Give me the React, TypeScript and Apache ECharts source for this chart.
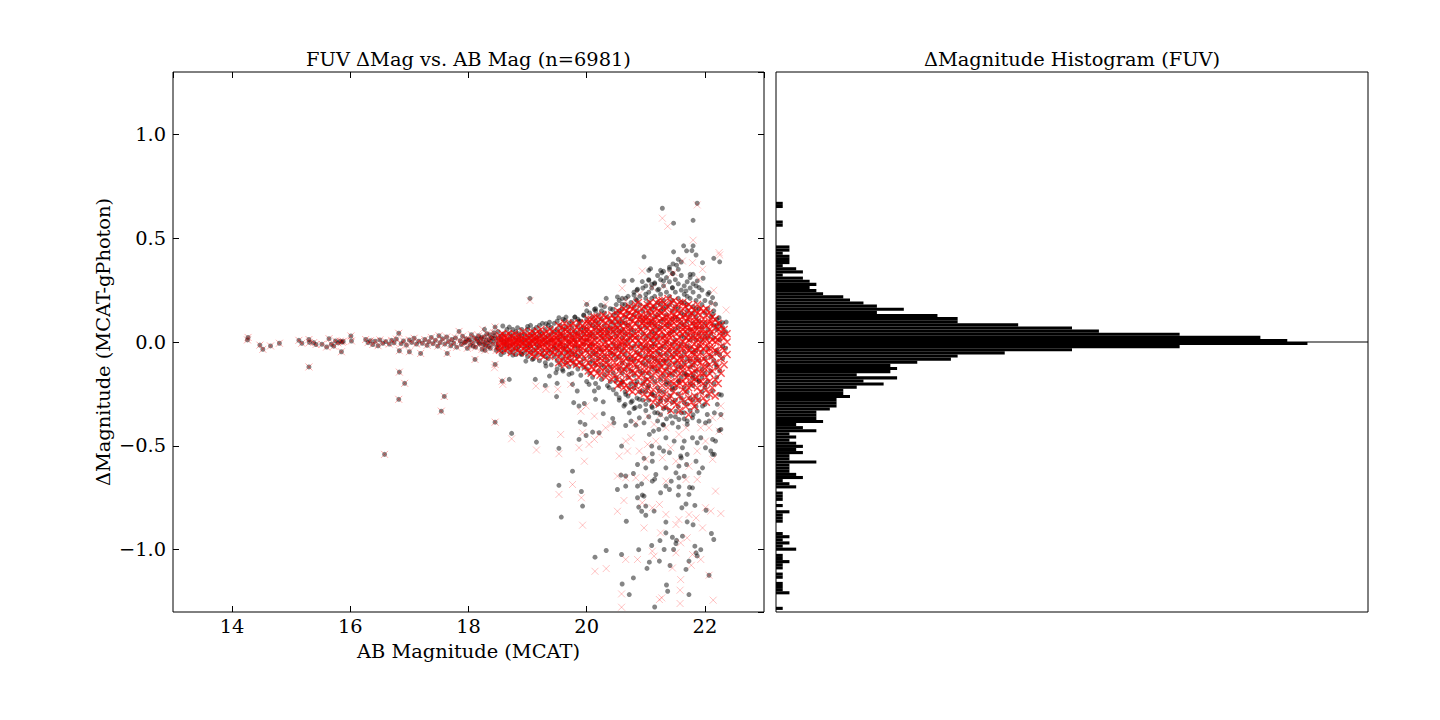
import React, { useEffect, useRef } from "react";
import * as echarts from "echarts";

const FONT = "'DejaVu Serif', serif";
const FS = 19.4;

// ---------- axis ranges ----------
const X_MIN = 13;
const X_MAX = 23;
const Y_MIN = -1.3;
const Y_MAX = 1.3;

// ---------- histogram (Δmag bins from -1.29, width 0.015) ----------
const HIST_START = -1.29;
const HIST_BIN = 0.015;
const histCounts = [
  1, 0, 0, 0, 0, 2, 1, 1, 1, 0,
  1, 1, 0, 1, 1, 2, 1, 1, 0, 3,
  1, 2, 1, 2, 1, 0, 0, 0, 1, 1,
  1, 2, 0, 1, 0, 1, 1, 1, 0, 3,
  2, 1, 4, 3, 2, 2, 2, 6, 2, 2,
  4, 3, 4, 3, 2, 3, 2, 6, 4, 3,
  7, 6, 6, 6, 8, 9, 9, 9, 11, 10,
  10, 12, 16, 13, 18, 12, 17, 18, 17, 21,
  26, 27, 34, 44, 60, 79, 76, 72, 60, 48,
  44, 36, 27, 27, 24, 15, 19, 15, 13, 11,
  10, 7, 6, 5, 6, 5, 4, 1, 4, 3,
  1, 2, 2, 2, 1, 2, 2, 0, 0, 0,
  0, 0, 0, 1, 1, 0, 0, 0, 0, 1,
  1, 0,
];
const SPIKE_AT = 0.001;
const SPIKE_COUNT = 88;
const HIST_MAX = 88;

// ---------- scatter: faint left band (black dot and red x coincide) ----------
const leftBand = [
  14.26, 0.010, 14.27, 0.022, 14.47, -0.015, 14.52, -0.035, 14.65, -0.019, 14.80, -0.006,
  15.13, 0.008, 15.18, -0.006, 15.30, 0.012, 15.31, -0.002, 15.30, -0.120, 15.38, -0.003,
  15.42, -0.012, 15.52, -0.011, 15.60, -0.024, 15.64, 0.016, 15.68, -0.011, 15.72, -0.020,
  15.75, 0.005, 15.79, -0.004, 15.83, 0.004, 15.86, -0.001, 15.88, 0.003, 15.85, -0.047,
  16.01, 0.029, 16.02, 0.005, 16.58, -0.541,
  16.26, 0.012, 16.30, -0.003, 16.34, 0.006, 16.38, -0.012, 16.42, 0.004, 16.47, -0.018,
  16.50, 0.010, 16.55, -0.006, 16.60, 0.002, 16.66, -0.010, 16.70, 0.008, 16.74, -0.004,
  16.78, 0.014, 16.82, 0.042, 16.83, -0.042, 16.83, -0.145, 16.92, -0.199, 16.82, -0.276,
  16.86, -0.008, 16.90, 0.005, 16.95, -0.015, 17.00, 0.010, 17.00, -0.047, 17.04, -0.002,
  17.08, 0.018, 17.12, -0.010, 17.16, 0.004, 17.19, -0.055, 17.22, -0.006, 17.26, 0.012,
  17.30, -0.016, 17.33, 0.002, 17.37, 0.022, 17.40, -0.008, 17.44, 0.008, 17.48, -0.020,
  17.50, 0.030, 17.52, -0.003, 17.54, -0.333, 17.59, -0.262, 17.56, 0.015, 17.60, -0.010,
  17.63, 0.024, 17.64, -0.055, 17.66, 0.002, 17.70, -0.018, 17.72, 0.012, 17.75, -0.006,
  17.78, 0.020, 17.80, -0.025, 17.84, 0.051, 17.86, 0.006, 17.88, -0.012, 17.90, 0.028,
  17.93, -0.003, 17.95, 0.000, 17.96, 0.015, 17.98, -0.030, 18.00, 0.008, 18.02, 0.012,
  18.03, -0.015, 18.05, 0.035, 18.07, -0.002, 18.08, -0.020, 18.10, 0.020, 18.11, -0.084,
  18.12, -0.025, 18.14, 0.015, 18.15, 0.005, 18.17, 0.030, 18.18, -0.004, 18.19, -0.010,
  18.21, 0.015, 18.22, 0.022, 18.23, -0.035, 18.25, 0.000, 18.26, -0.012, 18.27, 0.025,
  18.28, -0.040, 18.29, -0.018, 18.30, 0.008, 18.31, 0.040, 18.33, -0.005, 18.34, -0.022,
  18.35, 0.012, 18.36, 0.035, 18.37, -0.030, 18.38, 0.004, 18.39, 0.020, 18.41, -0.010,
  18.42, 0.018, 18.43, 0.045, 18.44, 0.030, 18.45, -0.108, 18.45, 0.072, 18.45, -0.386,
  18.46, 0.005, 18.47, -0.040, 18.48, -0.022, 18.57, -0.188,
];

// ---------- scatter: black dots, dense core (x, list of Δmag) ----------
const blackCore: Array<[number, number[]]> = [
  [18.50, [0.02, -0.03, 0.05, -0.01]],
  [18.55, [-0.04, 0.01, 0.03, -0.06]],
  [18.60, [0.04, -0.02, 0.00, -0.05]],
  [18.65, [-0.03, 0.06, 0.01, -0.01]],
  [18.70, [0.02, -0.05, 0.04, -0.02]],
  [18.75, [-0.01, 0.03, -0.04, 0.06]],
  [18.80, [0.05, -0.03, 0.01, -0.06]],
  [18.85, [-0.02, 0.02, 0.04, -0.04]],
  [18.90, [0.03, -0.06, 0.00, 0.06]],
  [18.95, [-0.05, 0.04, -0.02, 0.01]],
  [19.00, [0.06, -0.03, 0.02, -0.07, -0.01]],
  [19.05, [-0.05, 0.03, 0.08, -0.02, 0.00]],
  [19.10, [0.04, -0.08, 0.01, -0.04, 0.06]],
  [19.15, [-0.03, 0.07, -0.06, 0.02, -0.01]],
  [19.20, [0.05, -0.02, -0.09, 0.03, 0.08]],
  [19.25, [-0.06, 0.01, 0.04, -0.04, 0.09]],
  [19.30, [0.02, -0.07, 0.06, -0.01, -0.10]],
  [19.35, [-0.04, 0.08, 0.03, -0.08, 0.00]],
  [19.40, [0.07, -0.05, 0.01, -0.11, 0.04]],
  [19.45, [-0.02, 0.05, -0.07, 0.09, -0.03]],
  [19.50, [0.06, -0.09, 0.02, -0.04, 0.10, -0.13]],
  [19.55, [-0.06, 0.04, -0.01, 0.08, -0.11, 0.01]],
  [19.60, [0.03, -0.08, 0.11, -0.03, -0.14, 0.06]],
  [19.65, [-0.05, 0.07, -0.10, 0.02, 0.12, -0.02]],
  [19.70, [0.09, -0.04, 0.00, -0.12, 0.05, -0.07]],
  [19.75, [-0.09, 0.03, 0.10, -0.05, -0.15, 0.07]],
  [19.80, [0.05, -0.06, 0.12, -0.02, -0.11, 0.01]],
  [19.85, [-0.03, 0.08, -0.13, 0.04, -0.07, 0.11]],
  [19.90, [0.10, -0.10, 0.02, -0.05, 0.06, -0.16]],
  [19.95, [-0.08, 0.04, -0.01, 0.13, -0.12, 0.07]],
  [20.00, [0.06, -0.13, 0.11, -0.04, 0.01, -0.19, 0.15]],
  [20.05, [-0.07, 0.09, -0.02, 0.14, -0.15, 0.03, -0.10]],
  [20.10, [0.12, -0.05, 0.04, -0.17, 0.08, -0.09, -0.01]],
  [20.15, [-0.11, 0.02, 0.16, -0.06, -0.20, 0.07, 0.10]],
  [20.20, [0.05, -0.14, 0.09, -0.03, 0.13, -0.08, -0.22]],
  [20.25, [-0.04, 0.11, -0.18, 0.03, 0.15, -0.11, 0.06]],
  [20.30, [0.14, -0.07, 0.01, -0.16, 0.08, -0.12, 0.17]],
  [20.35, [-0.09, 0.06, -0.21, 0.12, -0.02, 0.04, -0.14]],
  [20.40, [0.10, -0.12, 0.16, -0.05, -0.19, 0.02, 0.07]],
  [20.45, [-0.06, 0.13, -0.15, 0.05, -0.23, 0.09, -0.01]],
  [20.50, [0.11, -0.08, 0.18, -0.17, 0.03, -0.25, 0.07, -0.03, 0.14]],
  [20.55, [-0.13, 0.05, -0.21, 0.15, -0.02, 0.09, -0.28, 0.20, -0.07]],
  [20.60, [0.16, -0.10, 0.02, -0.19, 0.10, -0.04, 0.21, -0.15, 0.06]],
  [20.65, [-0.06, 0.12, -0.24, 0.04, -0.13, 0.18, -0.01, -0.30, 0.09]],
  [20.70, [0.08, -0.17, 0.14, -0.08, 0.22, -0.26, 0.01, -0.11, 0.17]],
  [20.75, [-0.20, 0.06, -0.03, 0.19, -0.14, 0.11, -0.29, 0.03, -0.08]],
  [20.80, [0.13, -0.09, 0.24, -0.22, 0.05, -0.16, 0.17, -0.02, -0.32]],
  [20.85, [-0.05, 0.20, -0.27, 0.09, -0.12, 0.15, -0.19, 0.02, 0.25]],
  [20.90, [0.18, -0.14, 0.07, -0.24, 0.12, -0.06, -0.31, 0.22, -0.01]],
  [20.95, [-0.10, 0.15, -0.20, 0.04, 0.26, -0.28, 0.10, -0.15, -0.03]],
  [21.00, [0.21, -0.07, 0.12, -0.18, 0.02, -0.33, 0.17, -0.11, 0.27, -0.24, 0.07, -0.02]],
  [21.05, [-0.15, 0.09, -0.28, 0.19, -0.04, 0.14, -0.21, 0.03, -0.36, 0.24, -0.09, 0.30]],
  [21.10, [0.16, -0.12, 0.05, -0.25, 0.26, -0.02, -0.17, 0.10, -0.31, 0.21, -0.07, 0.01]],
  [21.15, [-0.08, 0.22, -0.19, 0.12, -0.34, 0.04, 0.28, -0.13, 0.17, -0.26, -0.01, 0.08]],
  [21.20, [0.13, -0.22, 0.25, -0.05, 0.06, -0.30, 0.19, -0.14, 0.32, -0.09, -0.38, 0.02]],
  [21.25, [-0.18, 0.07, -0.03, 0.23, -0.27, 0.15, -0.11, 0.30, -0.35, 0.10, -0.06, 0.18]],
  [21.30, [0.20, -0.09, 0.11, -0.32, 0.27, -0.16, 0.03, -0.24, 0.16, -0.02, 0.34, -0.40]],
  [21.35, [-0.13, 0.24, -0.06, 0.08, -0.28, 0.17, -0.37, 0.31, -0.19, 0.00, 0.13, -0.09]],
  [21.40, [0.09, -0.20, 0.29, -0.11, 0.18, -0.33, 0.04, -0.26, 0.22, -0.04, 0.36, -0.15]],
  [21.45, [-0.07, 0.15, -0.29, 0.26, -0.16, 0.05, -0.39, 0.20, -0.01, 0.11, -0.23, 0.33]],
  [21.50, [0.24, -0.14, 0.06, -0.36, 0.17, -0.05, 0.30, -0.22, 0.12, -0.28, 0.01, -0.10]],
  [21.55, [-0.19, 0.11, -0.31, 0.21, -0.03, 0.28, -0.12, 0.07, -0.41, 0.16, -0.25, 0.35]],
  [21.60, [0.14, -0.07, 0.25, -0.27, 0.03, -0.17, 0.19, -0.34, 0.09, -0.01, 0.32, -0.12]],
  [21.65, [-0.10, 0.19, -0.22, 0.08, -0.37, 0.27, -0.05, 0.13, -0.29, 0.23, -0.15, 0.02]],
  [21.70, [0.22, -0.16, 0.04, -0.30, 0.15, -0.08, 0.29, -0.24, 0.10, -0.38, 0.18, -0.02]],
  [21.75, [-0.12, 0.26, -0.20, 0.06, -0.33, 0.13, -0.03, 0.21, -0.27, 0.31, -0.09, 0.01]],
  [21.80, [0.17, -0.21, 0.09, -0.35, 0.24, -0.11, 0.03, -0.28, 0.14, -0.05, 0.28, -0.16]],
  [21.85, [-0.14, 0.12, -0.26, 0.20, -0.04, 0.27, -0.31, 0.07, -0.18, 0.16, -0.08, 0.01]],
  [21.90, [0.10, -0.19, 0.22, -0.09, 0.04, -0.28, 0.16, -0.02]],
  [21.95, [-0.13, 0.18, -0.24, 0.07, -0.05, 0.25, -0.17, 0.01]],
  [22.00, [0.14, -0.08, 0.20, -0.22, 0.03, -0.15, 0.09, -0.30]],
  [22.05, [-0.11, 0.06, -0.19, 0.16, -0.03, 0.23, -0.26, 0.02]],
  [22.10, [0.12, -0.14, 0.04, -0.07, 0.19]],
  [22.15, [-0.09, 0.15, -0.20, 0.02, 0.08]],
  [22.20, [0.06, -0.12, 0.11, -0.04, -0.17]],
  [22.25, [-0.06, 0.09, -0.14, 0.01]],
  [22.30, [0.04, -0.08, 0.07, -0.02]],
  [22.35, [-0.03, 0.05]],
];

// ---------- scatter: black dots, scattered outliers ----------
const blackOut = [
  21.28, 0.644, 21.47, 0.572, 21.87, 0.668, 21.80, 0.586, 21.64, 0.463, 21.80, 0.463,
  21.69, 0.439, 21.47, 0.434, 21.85, 0.419, 21.78, 0.44, 20.97, 0.41, 22.15, 0.403,
  22.25, 0.386, 21.96, 0.382, 21.55, 0.398, 21.60, 0.385, 21.52, 0.37, 21.46, 0.376,
  21.08, 0.353, 21.05, 0.345, 21.25, 0.345, 21.40, 0.35, 21.27, 0.333, 21.46, 0.33,
  21.75, 0.326, 21.80, 0.326, 21.97, 0.307, 21.87, 0.294, 20.63, 0.294, 20.77, 0.297,
  20.94, 0.291, 21.05, 0.297, 21.10, 0.278, 21.15, 0.285, 21.30, 0.294, 20.86, 0.254,
  22.07, 0.238, 19.04, 0.21, 20.00, 0.181, 20.13, 0.157, 20.24, 0.177, 20.33, 0.21,
  20.52, 0.217, 20.66, 0.21, 20.80, 0.226, 19.53, 0.117, 19.63, 0.104, 19.80, 0.12,
  19.95, 0.128, 19.31, 0.088, 19.37, 0.095, 22.36, 0.096, 22.24, 0.117, 22.20, 0.08,
  18.27, 0.061, 18.58, 0.077, 18.69, 0.072, 18.83, 0.069, 19.00, 0.075, 19.87, 0.101,
  20.15, 0.149, 20.44, 0.157, 20.60, 0.182, 20.83, 0.206, 21.00, 0.23, 21.22, 0.254,
  21.45, 0.262, 21.68, 0.246, 21.90, 0.262, 22.13, 0.214, 22.18, 0.182, 22.13, 0.133,
  22.30, 0.093,
  18.69, -0.18, 18.73, -0.44, 19.15, -0.482, 19.53, -0.512, 19.76, -0.622, 19.13, -0.18,
  19.30, -0.209, 19.50, -0.199, 19.49, -0.263, 19.78, -0.292, 19.87, -0.308, 19.96, -0.296,
  20.15, -0.276, 20.28, -0.288, 19.89, -0.386, 19.97, -0.397, 20.10, -0.434, 20.21, -0.437,
  19.87, -0.469, 19.99, -0.45, 20.28, -0.345, 20.44, -0.368, 20.46, -0.389, 20.59, -0.501,
  20.66, -0.402, 20.75, -0.381, 20.83, -0.40, 20.89, -0.365, 20.97, -0.389, 21.06, -0.445,
  21.13, -0.429, 21.22, -0.421, 21.29, -0.397, 20.86, -0.59, 20.97, -0.56, 21.10, -0.501,
  21.11, -0.538, 21.30, -0.525, 21.40, -0.533, 21.56, -0.598, 21.60, -0.558, 21.65, -0.477,
  21.69, -0.59, 21.90, -0.381, 22.01, -0.389, 21.93, -0.461, 22.13, -0.469, 22.24, -0.426,
  22.16, -0.541, 22.27, -0.349, 22.28, -0.255, 22.19, -0.108, 22.19, -0.051, 18.75, -0.063,
  18.89, -0.056, 18.97, -0.092, 19.08, -0.084, 19.31, -0.116, 19.48, -0.148, 19.59, -0.132,
  19.70, -0.156, 19.37, -0.164, 19.76, -0.204, 19.84, -0.236, 20.04, -0.204, 20.13, -0.236,
  20.38, -0.22, 20.55, -0.268, 20.66, -0.252, 20.77, -0.284,
  20.63, -0.308, 20.72, -0.341, 20.82, -0.316, 20.89, -0.276, 21.00, -0.300, 21.11, -0.316,
  21.20, -0.341, 21.25, -0.284, 21.34, -0.316, 21.42, -0.357, 21.51, -0.333, 21.56, -0.373,
  21.65, -0.341, 21.70, -0.397, 21.79, -0.365, 21.87, -0.333, 21.96, -0.308, 22.04, -0.349,
  22.07, -0.381, 22.16, -0.341, 22.21, -0.300, 22.24, -0.252, 22.13, -0.236, 22.01, -0.204,
  21.90, -0.188, 21.79, -0.172, 21.68, -0.156, 21.56, -0.188, 21.45, -0.220, 21.34, -0.204,
  21.23, -0.236, 21.11, -0.252, 21.03, -0.220, 20.94, -0.236, 20.83, -0.204, 20.72, -0.220,
  20.60, -0.196, 20.49, -0.188, 21.79, -0.461, 21.87, -0.485, 22.01, -0.509, 22.10, -0.525,
  21.62, -0.509, 21.48, -0.477, 21.34, -0.461, 21.23, -0.509, 21.11, -0.574, 21.00, -0.606,
  21.17, -0.638, 21.34, -0.606, 21.51, -0.630, 21.59, -0.549, 21.70, -0.541, 21.85, -0.574,
  21.96, -0.606, 22.13, -0.541, 22.18, -0.477, 22.27, -0.421,
  19.53, -0.69, 19.57, -0.843, 19.91, -0.72, 19.93, -0.79, 20.14, -1.036, 20.33, -1.004,
  20.52, -0.71, 20.66, -0.694, 20.58, -0.641, 20.66, -0.645, 20.79, -0.633, 20.67, -0.863,
  20.59, -1.023, 20.60, -1.165, 20.72, -1.216, 20.79, -1.136, 20.88, -1.0, 20.86, -0.694,
  20.93, -0.683, 20.88, -0.795, 21.00, -0.834, 20.93, -0.815, 20.97, -0.742, 21.06, -1.06,
  21.02, -1.09, 21.10, -0.98, 21.15, -1.276, 21.35, -1.17, 21.37, -1.2, 21.23, -1.055,
  21.24, -0.956, 21.34, -0.867, 21.34, -0.919, 21.45, -0.94, 21.52, -0.955, 21.47, -0.999,
  21.51, -0.97, 21.31, -0.999, 21.41, -1.076, 21.62, -0.935, 21.68, -1.095, 21.73, -1.055,
  21.83, -0.983, 21.85, -1.015, 21.93, -1.0, 21.87, -1.03, 21.73, -1.216, 22.07, -1.123,
  22.11, -0.922, 22.15, -0.951, 22.02, -0.81, 21.70, -0.866, 21.80, -0.88, 21.83, -0.787,
  21.68, -0.78, 21.56, -0.697, 21.61, -0.798, 21.73, -0.734, 21.74, -0.70, 21.11, -0.67,
  21.25, -0.726, 21.34, -0.694, 21.43, -0.67, 21.40, -0.71, 21.55, -0.737, 21.56, -0.654,
  21.65, -0.646, 21.79, -0.702, 21.90, -0.63, 21.15, -0.66, 20.94, -0.737, 20.86, -0.75,
  21.14, -0.814, 21.00, -0.79,
];

// ---------- scatter: red x, dense core ----------
const redCore: Array<[number, number[]]> = [
  [18.525, [0.01, -0.02, 0.03, -0.04, 0.00]],
  [18.575, [-0.01, 0.02, -0.03, 0.04, 0.00]],
  [18.625, [0.02, -0.01, 0.00, -0.04, 0.03]],
  [18.675, [-0.02, 0.01, 0.04, -0.03, 0.00]],
  [18.725, [0.00, 0.03, -0.02, 0.01, -0.05]],
  [18.775, [0.02, -0.03, 0.00, 0.04, -0.01]],
  [18.825, [-0.01, 0.01, -0.04, 0.03, 0.00]],
  [18.875, [0.03, -0.02, 0.01, -0.05, 0.00]],
  [18.925, [-0.03, 0.00, 0.02, 0.05, -0.01]],
  [18.975, [0.01, -0.04, 0.03, 0.00, -0.02]],
  [19.025, [0.02, -0.01, -0.05, 0.04, 0.00, -0.03]],
  [19.075, [-0.02, 0.03, 0.00, -0.06, 0.05, 0.01]],
  [19.125, [0.01, -0.04, 0.04, -0.01, 0.02, -0.07]],
  [19.175, [-0.03, 0.00, 0.05, -0.05, 0.02, 0.01]],
  [19.225, [0.03, -0.02, 0.00, -0.06, 0.06, -0.01]],
  [19.275, [-0.01, 0.04, -0.04, 0.01, -0.07, 0.02]],
  [19.325, [0.02, -0.03, 0.05, -0.01, 0.00, -0.05]],
  [19.375, [-0.04, 0.01, 0.03, -0.02, 0.06, -0.07]],
  [19.425, [0.00, -0.05, 0.02, 0.05, -0.02, 0.01]],
  [19.475, [0.04, -0.01, -0.06, 0.02, 0.00, -0.03]],
  [19.525, [-0.02, 0.05, -0.07, 0.01, 0.08, -0.04, 0.03, -0.10]],
  [19.575, [0.03, -0.05, 0.00, 0.07, -0.02, -0.09, 0.04, -0.01]],
  [19.625, [-0.03, 0.01, 0.06, -0.07, 0.02, 0.09, -0.04, -0.11]],
  [19.675, [0.05, -0.02, -0.08, 0.03, 0.00, -0.05, 0.07, -0.10]],
  [19.725, [-0.04, 0.02, 0.08, -0.01, -0.06, 0.04, -0.09, 0.00]],
  [19.775, [0.01, -0.06, 0.05, -0.03, 0.09, -0.10, 0.02, -0.01]],
  [19.825, [-0.05, 0.03, -0.01, 0.07, -0.08, 0.00, 0.04, -0.11]],
  [19.875, [0.06, -0.03, 0.01, -0.07, 0.03, -0.10, 0.09, -0.02]],
  [19.925, [-0.01, 0.05, -0.06, 0.02, -0.11, 0.08, -0.03, 0.00]],
  [19.975, [0.04, -0.08, 0.00, 0.06, -0.04, 0.02, -0.12, 0.09]],
  [20.025, [-0.05, 0.02, 0.09, -0.10, 0.04, -0.02, 0.11, -0.14, 0.00, 0.06]],
  [20.075, [0.03, -0.07, 0.00, 0.08, -0.12, 0.05, -0.03, -0.15, 0.11, -0.01]],
  [20.125, [-0.04, 0.06, -0.10, 0.01, 0.10, -0.06, 0.03, -0.13, 0.12, -0.02]],
  [20.175, [0.07, -0.02, -0.09, 0.04, -0.15, 0.00, 0.09, -0.05, 0.12, -0.11]],
  [20.225, [-0.06, 0.03, 0.11, -0.12, 0.01, -0.03, 0.07, -0.16, 0.05, -0.08]],
  [20.275, [0.02, -0.09, 0.06, -0.01, -0.14, 0.10, -0.05, 0.13, -0.03, 0.04]],
  [20.325, [-0.03, 0.09, -0.07, 0.03, -0.12, 0.00, 0.12, -0.17, 0.06, -0.10]],
  [20.375, [0.05, -0.04, 0.01, -0.11, 0.08, -0.15, 0.11, -0.02, 0.03, -0.07]],
  [20.425, [-0.08, 0.02, 0.10, -0.03, -0.13, 0.06, -0.18, 0.00, 0.13, -0.05]],
  [20.475, [0.04, -0.06, 0.08, -0.10, 0.01, -0.16, 0.11, -0.02, 0.06, -0.12]],
  [20.525, [-0.02, 0.07, -0.12, 0.03, 0.13, -0.07, -0.18, 0.10, -0.04, 0.01, -0.21, 0.15]],
  [20.575, [0.05, -0.09, 0.00, 0.11, -0.15, 0.04, -0.05, 0.14, -0.20, 0.08, -0.01, -0.12]],
  [20.625, [-0.06, 0.02, 0.09, -0.13, 0.06, -0.03, -0.19, 0.13, -0.09, 0.00, 0.16, -0.22]],
  [20.675, [0.08, -0.04, -0.16, 0.03, 0.12, -0.08, 0.00, -0.21, 0.15, -0.12, 0.05, -0.02]],
  [20.725, [-0.10, 0.05, -0.01, 0.14, -0.17, 0.08, -0.06, 0.02, -0.23, 0.11, -0.13, 0.17]],
  [20.775, [0.03, -0.07, 0.10, -0.14, 0.01, 0.16, -0.03, -0.19, 0.07, -0.10, 0.13, -0.24]],
  [20.825, [-0.05, 0.12, -0.11, 0.04, -0.21, 0.09, -0.01, 0.15, -0.15, 0.02, -0.08, 0.18]],
  [20.875, [0.07, -0.02, -0.13, 0.11, -0.06, 0.01, -0.24, 0.14, -0.09, 0.05, -0.17, 0.19]],
  [20.925, [-0.04, 0.09, -0.16, 0.02, 0.13, -0.10, 0.06, -0.21, 0.16, -0.01, -0.07, 0.11]],
  [20.975, [0.04, -0.08, 0.12, -0.19, 0.00, 0.08, -0.12, 0.17, -0.03, -0.25, 0.10, -0.14]],
  [21.025, [-0.06, 0.10, -0.15, 0.03, 0.15, -0.09, 0.00, -0.22, 0.07, -0.03, 0.12, -0.18, 0.18, -0.27]],
  [21.075, [0.05, -0.11, 0.13, -0.02, -0.19, 0.08, -0.06, 0.01, -0.25, 0.16, -0.13, 0.10, -0.04, 0.19]],
  [21.125, [-0.08, 0.02, 0.11, -0.16, 0.06, -0.01, -0.23, 0.14, -0.11, 0.09, -0.05, 0.17, -0.29, 0.03]],
  [21.175, [0.09, -0.04, -0.14, 0.04, 0.16, -0.20, 0.01, -0.08, 0.12, -0.27, 0.07, -0.02, 0.19, -0.11]],
  [21.225, [-0.03, 0.13, -0.10, 0.06, -0.24, 0.00, 0.10, -0.17, 0.15, -0.06, -0.30, 0.03, -0.13, 0.20]],
  [21.275, [0.07, -0.07, 0.17, -0.21, 0.02, -0.12, 0.11, -0.02, -0.27, 0.14, -0.15, 0.05, 0.20, -0.09]],
  [21.325, [-0.05, 0.10, -0.18, 0.03, 0.15, -0.10, -0.01, -0.25, 0.08, -0.14, 0.18, -0.31, 0.01, 0.12]],
  [21.375, [0.04, -0.12, 0.12, -0.04, -0.22, 0.07, 0.17, -0.08, -0.28, 0.01, 0.10, -0.16, 0.21, -0.02]],
  [21.425, [-0.09, 0.06, -0.15, 0.14, -0.02, 0.02, -0.26, 0.11, -0.06, 0.19, -0.19, 0.08, -0.33, 0.04]],
  [21.475, [0.11, -0.03, -0.20, 0.05, 0.16, -0.11, 0.00, -0.24, 0.09, -0.14, 0.13, -0.07, -0.29, 0.20]],
  [21.525, [-0.06, 0.08, -0.13, 0.18, -0.01, -0.21, 0.04, 0.12, -0.09, -0.30, 0.15, -0.17, 0.01, -0.04]],
  [21.575, [0.02, -0.10, 0.14, -0.05, -0.26, 0.09, -0.15, 0.19, 0.05, -0.02, -0.20, 0.11, -0.33, -0.08]],
  [21.625, [-0.12, 0.04, -0.03, 0.16, -0.19, 0.08, -0.08, -0.28, 0.12, 0.00, -0.14, 0.19, -0.23, 0.06]],
  [21.675, [0.07, -0.06, -0.17, 0.13, 0.02, -0.24, 0.10, -0.11, 0.17, -0.01, -0.31, 0.05, -0.20, -0.03]],
  [21.725, [-0.08, 0.11, -0.22, 0.03, 0.15, -0.13, 0.07, -0.04, -0.27, 0.18, -0.16, 0.01, 0.12, -0.35]],
  [21.775, [0.05, -0.15, 0.09, -0.02, -0.21, 0.14, -0.08, 0.02, -0.29, 0.17, -0.11, 0.06, -0.05, -0.19]],
  [21.825, [-0.04, 0.08, -0.18, 0.12, -0.10, 0.02, -0.26, 0.15, -0.06, 0.05, -0.14, 0.10, -0.31, -0.01]],
  [21.875, [0.10, -0.07, 0.01, -0.22, 0.14, -0.13, 0.06, -0.03, -0.17, 0.18, -0.28, 0.03, -0.09, 0.08]],
  [21.925, [-0.05, 0.09, -0.15, 0.03, -0.24, 0.13, -0.10, 0.00, 0.06, -0.19, 0.16, -0.02]],
  [21.975, [0.06, -0.12, 0.11, -0.03, -0.20, 0.01, 0.15, -0.08, -0.27, 0.04, -0.15, 0.09]],
  [22.025, [-0.09, 0.04, -0.17, 0.13, -0.02, 0.08, -0.23, 0.01, -0.12, 0.16, -0.05, -0.29]],
  [22.075, [0.03, -0.06, 0.10, -0.19, 0.00, -0.11, 0.14, -0.25, 0.06, -0.03, -0.15, 0.09]],
  [22.125, [-0.07, 0.05, -0.14, 0.09, -0.22, 0.01, -0.03, 0.12]],
  [22.175, [0.02, -0.10, 0.07, -0.18, -0.04, 0.11, -0.26, 0.00]],
  [22.225, [-0.05, 0.06, -0.12, 0.01, -0.20, 0.09]],
  [22.275, [0.03, -0.08, 0.05, -0.15, -0.02, 0.08]],
  [22.325, [-0.04, 0.02, -0.11, 0.06]],
  [22.375, [0.00, -0.06, 0.04]],
];

// ---------- scatter: red x, scattered outliers ----------
const redOut = [
  21.28, 0.596, 21.37, 0.557, 21.87, 0.66, 21.80, 0.49, 22.25, 0.419, 22.15, 0.249,
  22.36, 0.154, 19.04, 0.20, 20.00, 0.185, 20.60, 0.259, 20.94, 0.342, 21.42, 0.326,
  21.48, 0.334, 21.79, 0.382, 21.96, 0.35, 21.62, 0.39, 21.90, 0.302, 22.24, 0.43,
  22.13, 0.182, 22.24, 0.037, 22.21, -0.003, 22.27, 0.013, 22.07, 0.053, 20.89, 0.23,
  21.11, 0.262, 21.31, 0.27, 20.66, 0.198, 20.32, 0.182, 18.24, 0.061,
  18.44, -0.124, 18.58, -0.204, 18.73, -0.466, 19.15, -0.52, 19.53, -0.538, 19.56, -0.445,
  19.14, -0.212, 19.31, -0.228, 19.51, -0.228, 19.73, -0.204, 19.90, -0.333, 19.99, -0.308,
  20.13, -0.357, 20.32, -0.413, 20.41, -0.397, 20.21, -0.445, 20.13, -0.469, 19.93, -0.437,
  19.87, -0.509, 20.04, -0.493, 19.96, -0.574, 20.66, -0.477, 20.75, -0.461, 20.55, -0.549,
  20.69, -0.525, 20.89, -0.525, 21.03, -0.493, 21.17, -0.477, 21.00, -0.565, 21.28, -0.557,
  21.42, -0.509, 21.51, -0.574, 21.73, -0.598, 21.87, -0.525, 22.01, -0.477, 22.13, -0.565,
  22.24, -0.429, 22.27, -0.357, 22.27, -0.308, 22.21, -0.172, 22.24, -0.14, 22.16, -0.26,
  22.13, -0.365, 22.07, -0.413, 21.93, -0.413, 21.68, -0.413, 21.56, -0.445, 21.34, -0.413,
  21.14, -0.397, 20.83, -0.389, 21.03, -0.357, 21.25, -0.349, 21.56, -0.341, 21.79, -0.316,
  19.53, -0.734, 19.76, -0.686, 19.91, -0.75, 19.93, -0.882, 20.14, -1.104, 20.33, -1.091,
  20.52, -0.815, 20.63, -0.763, 20.66, -1.047, 20.59, -1.213, 20.59, -1.277, 20.86, -1.047,
  21.14, -1.031, 21.27, -1.232, 21.58, -1.195, 21.58, -1.259, 22.27, -0.826, 22.07, -1.123,
  22.14, -1.243, 22.18, -0.718, 21.96, -0.895, 20.52, -0.646, 20.66, -0.654, 21.00, -0.654,
  21.11, -0.798, 21.23, -0.782, 21.34, -0.83, 21.25, -0.919, 21.51, -0.879, 21.56, -0.855,
  21.73, -0.831, 21.85, -0.847, 21.70, -0.943, 21.59, -0.967, 21.51, -1.015, 21.79, -1.023,
  21.93, -1.047, 21.45, -1.088, 21.77, -1.075, 21.11, -1.007, 20.97, -0.895, 20.94, -0.774,
  20.83, -0.654, 21.34, -0.67, 21.68, -0.662, 21.87, -0.662, 22.01, -0.798, 22.10, -0.814,
  21.59, -1.144, 21.23, -1.24,
];

// ---------- helpers ----------
function pairs(flat: number[]): number[][] {
  const out: number[][] = [];
  for (let i = 0; i + 1 < flat.length; i += 2) out.push([flat[i], flat[i + 1]]);
  return out;
}
function columns(c: Array<[number, number[]]>): number[][] {
  return c.flatMap(([x, ys]) => ys.map((y) => [x, y]));
}
function yLabel(v: number): string {
  if (Math.abs(v) < 1e-9) return "0.0";
  return (v < 0 ? "\u2212" : "") + Math.abs(v).toFixed(1);
}

const X_SYMBOL = "path://M0,0L10,10M10,0L0,10";

function buildOption(): echarts.EChartsOption {
  const histData = histCounts.map((c, i) => [HIST_START + (i + 0.5) * HIST_BIN, c, HIST_BIN]);
  histData.push([SPIKE_AT, SPIKE_COUNT, 0.004]);

  const textStyle = { fontFamily: FONT, fontSize: FS, color: "#000" };
  const tick = { show: true, inside: true, length: 6, lineStyle: { color: "#000", width: 1 } };
  const noLine = { show: false, onZero: false };

  const blackStyle = { color: "rgba(0,0,0,0.6)" };
  const redFaint = { color: "rgba(0,0,0,0)", borderColor: "rgba(255,0,0,0.3)", borderWidth: 1 };
  const redDense = { color: "rgba(0,0,0,0)", borderColor: "rgba(245,0,0,0.85)", borderWidth: 1.4 };

  const scatterBase = {
    type: "scatter" as const,
    xAxisIndex: 0,
    yAxisIndex: 0,
    silent: true,
    animation: false,
    large: false,
  };

  return {
    animation: false,
    backgroundColor: "#fff",
    grid: [
      { left: 173, top: 72, width: 591, height: 540, show: true, borderColor: "#000", borderWidth: 1, backgroundColor: "#fff" },
      { left: 776, top: 72, width: 592, height: 540, show: true, borderColor: "#000", borderWidth: 1, backgroundColor: "#fff" },
    ],
    xAxis: [
      {
        gridIndex: 0, type: "value", min: X_MIN, max: X_MAX, splitNumber: 5, position: "bottom",
        axisLine: noLine, axisTick: tick, splitLine: { show: false },
        axisLabel: { ...textStyle, margin: 5, showMinLabel: false, showMaxLabel: false },
        name: "AB Magnitude (MCAT)", nameLocation: "middle", nameGap: 30, nameTextStyle: textStyle,
      },
      {
        gridIndex: 0, type: "value", min: X_MIN, max: X_MAX, splitNumber: 5, position: "top",
        axisLine: noLine, axisTick: tick, splitLine: { show: false }, axisLabel: { show: false },
      },
      { gridIndex: 1, type: "value", min: 0, max: HIST_MAX, show: false, axisLine: noLine },
    ],
    yAxis: [
      {
        gridIndex: 0, type: "value", min: Y_MIN, max: Y_MAX, splitNumber: 5, position: "left",
        axisLine: noLine, axisTick: tick, splitLine: { show: false },
        axisLabel: { ...textStyle, margin: 7, showMinLabel: false, showMaxLabel: false, formatter: yLabel },
        name: "\u0394Magnitude (MCAT-gPhoton)", nameLocation: "middle", nameGap: 60, nameRotate: 90,
        nameTextStyle: textStyle,
      },
      {
        gridIndex: 0, type: "value", min: Y_MIN, max: Y_MAX, splitNumber: 5, position: "right",
        axisLine: noLine, axisTick: tick, splitLine: { show: false }, axisLabel: { show: false },
      },
      { gridIndex: 1, type: "value", min: Y_MIN, max: Y_MAX, show: false, axisLine: noLine },
    ],
    graphic: [
      {
        type: "text", x: 468.5, y: 59,
        style: { text: "FUV \u0394Mag vs. AB Mag (n=6981)", fontFamily: FONT, fontSize: FS, fill: "#000", align: "center", verticalAlign: "middle" },
      },
      {
        type: "text", x: 1072, y: 59,
        style: { text: "\u0394Magnitude Histogram (FUV)", fontFamily: FONT, fontSize: FS, fill: "#000", align: "center", verticalAlign: "middle" },
      },
    ],
    series: [
      { ...scatterBase, name: "band-dot", data: pairs(leftBand), symbol: "circle", symbolSize: 5, itemStyle: blackStyle, z: 2 },
      { ...scatterBase, name: "core-dot", data: columns(blackCore), symbol: "circle", symbolSize: 5, itemStyle: blackStyle, z: 2 },
      { ...scatterBase, name: "out-dot", data: pairs(blackOut), symbol: "circle", symbolSize: 5, itemStyle: blackStyle, z: 2 },
      { ...scatterBase, name: "band-x", data: pairs(leftBand), symbol: X_SYMBOL, symbolSize: 7, itemStyle: { ...redFaint, borderColor: "rgba(255,0,0,0.4)" }, z: 3 },
      { ...scatterBase, name: "core-x", data: columns(redCore), symbol: X_SYMBOL, symbolSize: 7, itemStyle: redDense, z: 3 },
      { ...scatterBase, name: "out-x", data: pairs(redOut), symbol: X_SYMBOL, symbolSize: 7, itemStyle: redFaint, z: 3 },
      {
        type: "custom",
        name: "hist",
        xAxisIndex: 2,
        yAxisIndex: 2,
        silent: true,
        clip: true,
        encode: { x: 1, y: 0 },
        data: histData,
        renderItem: (_params: any, api: any) => {
          const c = api.value(0);
          const n = api.value(1);
          const h = api.value(2);
          if (!n) return null;
          const p0 = api.coord([0, c + h / 2]);
          const p1 = api.coord([n, c - h / 2]);
          return {
            type: "rect",
            shape: { x: p0[0], y: p0[1], width: p1[0] - p0[0], height: Math.max(p1[1] - p0[1], 1) },
            style: { fill: "#000" },
          };
        },
      } as any,
    ],
  };
}

export default function App() {
  const ref = useRef<HTMLDivElement>(null);
  useEffect(() => {
    if (!ref.current) return;
    const chart = echarts.init(ref.current, null, { renderer: "svg" });
    chart.setOption(buildOption());
    return () => chart.dispose();
  }, []);
  return (
    <div
      ref={ref}
      style={{ position: "absolute", left: 0, top: 0, width: 1440, height: 720, background: "#fff" }}
    />
  );
}
